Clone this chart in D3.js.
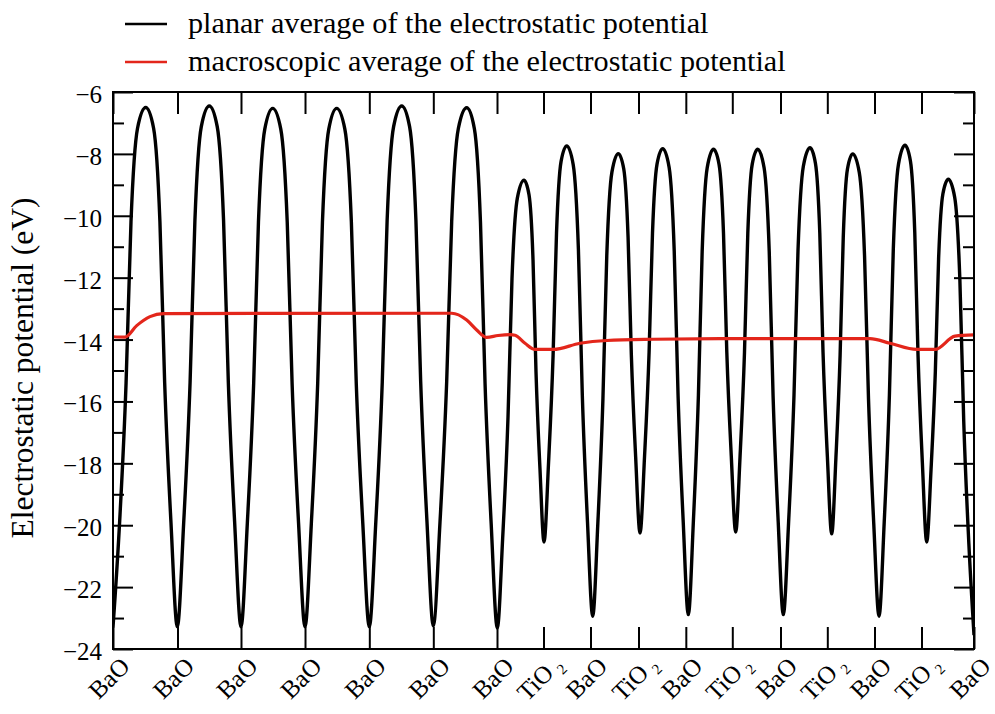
<!DOCTYPE html>
<html>
<head>
<meta charset="utf-8">
<script src="https://cdn.jsdelivr.net/npm/d3@7"></script>
<style>
  html, body { margin: 0; padding: 0; background: #fff; }
  svg { display: block; }
</style>
</head>
<body>
<svg id="chart" width="995" height="714" font-family="Liberation Serif"></svg>
<script>
// ---------------- data ----------------
// atomic layers along the stacking direction (position in Å)
const layerLabels = ["BaO","BaO","BaO","BaO","BaO","BaO","BaO","TiO2","BaO","TiO2","BaO","TiO2","BaO","TiO2","BaO","TiO2","BaO"];
const layerPositions = [0, 2.787, 5.530, 8.296, 11.074, 13.839, 16.591, 18.600, 20.631, 22.704, 24.749, 26.757, 28.840, 30.862, 32.901, 34.932, 37.2];

// y axis ticks (eV)
const yMajorTicks = [-24, -22, -20, -18, -16, -14, -12, -10, -8, -6];
const yMinorTicks = [-23, -21, -19, -17, -15, -13, -11, -9, -7];

// planar average of the electrostatic potential: [position (Å), potential (eV)]
const planarPoints = [
  [0.000,-23.30],[0.283,-19.94],[0.565,-15.40],[0.777,-10.20],[1.060,-7.17],
  [1.413,-6.50],[1.754,-7.17],[2.027,-10.19],[2.232,-15.39],[2.505,-19.92],
  [2.778,-23.28],[3.055,-19.91],[3.331,-15.37],[3.539,-10.15],[3.815,-7.12],
  [4.161,-6.45],[4.503,-7.12],[4.777,-10.15],[4.982,-15.37],[5.256,-19.91],
  [5.530,-23.28],[5.804,-19.93],[6.078,-15.41],[6.284,-10.21],[6.558,-7.20],
  [6.900,-6.53],[7.249,-7.20],[7.528,-10.21],[7.738,-15.41],[8.017,-19.93],
  [8.296,-23.28],[8.570,-19.93],[8.844,-15.41],[9.049,-10.21],[9.323,-7.20],
  [9.665,-6.53],[10.017,-7.20],[10.299,-10.21],[10.510,-15.41],[10.792,-19.93],
  [11.074,-23.28],[11.354,-19.91],[11.634,-15.37],[11.844,-10.15],[12.124,-7.12],
  [12.474,-6.45],[12.815,-7.12],[13.088,-10.15],[13.293,-15.35],[13.566,-19.89],
  [13.839,-23.25],[14.128,-19.90],[14.416,-15.38],[14.633,-10.19],[14.921,-7.18],
  [15.282,-6.51],[15.612,-7.18],[15.877,-10.21],[16.075,-15.42],[16.340,-19.96],
  [16.604,-23.32],[16.835,-20.43],[17.066,-16.52],[17.239,-12.03],[17.470,-9.43],
  [17.758,-8.85],[17.974,-9.32],[18.147,-11.42],[18.276,-15.05],[18.449,-18.20],
  [18.622,-20.54],[18.818,-17.98],[19.014,-14.52],[19.162,-10.56],[19.358,-8.25],
  [19.603,-7.74],[19.884,-8.35],[20.108,-11.08],[20.277,-15.80],[20.501,-19.90],
  [20.726,-22.94],[20.947,-19.95],[21.168,-15.91],[21.334,-11.28],[21.556,-8.59],
  [21.832,-7.99],[22.066,-8.48],[22.254,-10.69],[22.395,-14.49],[22.582,-17.80],
  [22.770,-20.25],[22.966,-17.77],[23.162,-14.41],[23.309,-10.56],[23.505,-8.33],
  [23.750,-7.83],[24.027,-8.43],[24.248,-11.14],[24.414,-15.81],[24.636,-19.88],
  [24.857,-22.89],[25.075,-19.88],[25.292,-15.82],[25.455,-11.16],[25.673,-8.45],
  [25.945,-7.85],[26.185,-8.34],[26.377,-10.57],[26.520,-14.41],[26.712,-17.75],
  [26.904,-20.22],[27.094,-17.75],[27.284,-14.41],[27.427,-10.57],[27.617,-8.34],
  [27.855,-7.85],[28.131,-8.45],[28.353,-11.16],[28.519,-15.82],[28.740,-19.88],
  [28.961,-22.89],[29.192,-19.87],[29.423,-15.80],[29.596,-11.12],[29.827,-8.40],
  [30.115,-7.80],[30.349,-8.30],[30.537,-10.55],[30.677,-14.41],[30.865,-17.78],
  [31.052,-20.28],[31.234,-17.82],[31.415,-14.51],[31.551,-10.70],[31.733,-8.49],
  [31.960,-8.00],[32.244,-8.60],[32.471,-11.29],[32.642,-15.92],[32.869,-19.95],
  [33.096,-22.94],[33.321,-19.90],[33.545,-15.79],[33.714,-11.07],[33.938,-8.33],
  [34.219,-7.72],[34.453,-8.23],[34.641,-10.54],[34.782,-14.51],[34.969,-17.98],
  [35.157,-20.54],[35.344,-18.20],[35.530,-15.03],[35.670,-11.40],[35.857,-9.29],
  [36.090,-8.82],[36.367,-9.41],[36.589,-12.06],[36.756,-16.63],[36.978,-20.60],
  [37.200,-23.55]
];

// macroscopic average of the electrostatic potential: [position (Å), potential (eV)]
const macroPoints = [
  [0.000,-13.91],[0.518,-13.92],[1.024,-13.55],[1.599,-13.26],[2.173,-13.16],
  [14.634,-13.15],[15.282,-13.37],[15.714,-13.69],[16.146,-13.93],[16.634,-13.87],
  [17.153,-13.84],[17.369,-13.86],[17.801,-14.12],[18.233,-14.32],[19.024,-14.32],
  [20.177,-14.12],[21.331,-14.03],[23.344,-13.99],[26.226,-13.97],[32.707,-13.97],
  [33.571,-14.12],[34.725,-14.32],[35.515,-14.32],[36.380,-13.89],[37.200,-13.85]
];

const seriesNames = ["planar average of the electrostatic potential",
                     "macroscopic average of the electrostatic potential"];
const seriesColors = ["#000000", "#e3261b"];
const yTitle = "Electrostatic potential (eV)";

// ---------------- drawing ----------------
const FONT = "Liberation Serif";
const svg = d3.select("#chart");
const plot = { left: 113, right: 974, top: 92, bottom: 649 };

const x = d3.scaleLinear().domain([0, 37.2]).range([plot.left, plot.right]);
const y = d3.scaleLinear().domain([-24, -6]).range([plot.bottom, plot.top]);

svg.append("rect").attr("width", 995).attr("height", 714).attr("fill", "#fff");

svg.append("defs").append("clipPath").attr("id", "clip")
  .append("rect").attr("x", plot.left).attr("y", plot.top)
  .attr("width", plot.right - plot.left).attr("height", plot.bottom - plot.top);

function styleAxis(g) {
  g.attr("font-family", FONT);
  g.select(".domain").remove();
  g.selectAll(".tick line").attr("stroke", "#000").attr("stroke-width", 2);
}

// bottom / top x axes (ticks inward, labels drawn separately)
svg.append("g").attr("transform", `translate(0,${plot.bottom})`)
  .call(d3.axisBottom(x).tickValues(layerPositions).tickSize(-22).tickFormat(""))
  .call(styleAxis);
svg.append("g").attr("transform", `translate(0,${plot.top})`)
  .call(d3.axisTop(x).tickValues(layerPositions).tickSize(-22).tickFormat(""))
  .call(styleAxis);

// left y axis
svg.append("g").attr("transform", `translate(${plot.left},0)`)
  .call(d3.axisLeft(y).tickValues(yMajorTicks).tickSize(-20).tickPadding(11).tickFormat(d3.format("d")))
  .call(styleAxis)
  .call(g => g.selectAll(".tick text")
    .attr("font-size", 25).attr("font-family", FONT).attr("fill", "#000")
    .attr("dy", "0.36em").attr("y", 1.5));
svg.append("g").attr("transform", `translate(${plot.left},0)`)
  .call(d3.axisLeft(y).tickValues(yMinorTicks).tickSize(-11).tickFormat(""))
  .call(styleAxis);
// right y axis
svg.append("g").attr("transform", `translate(${plot.right},0)`)
  .call(d3.axisRight(y).tickValues(yMajorTicks).tickSize(-20).tickFormat(""))
  .call(styleAxis);
svg.append("g").attr("transform", `translate(${plot.right},0)`)
  .call(d3.axisRight(y).tickValues(yMinorTicks).tickSize(-11).tickFormat(""))
  .call(styleAxis);

// x tick labels, rotated by 45 degrees
const lblG = svg.append("g").selectAll("g")
  .data(layerLabels.map((l, i) => ({ l, p: layerPositions[i] })))
  .join("g")
  .attr("transform", d => "translate(" + (x(d.p) + 2) + "," + (plot.bottom + 35) + ")");
const lbl = lblG.append("text")
  .attr("transform", "rotate(-45)")
  .attr("text-anchor", "middle")
  .attr("font-family", FONT)
  .attr("font-size", 25)
  .attr("fill", "#000");
lbl.each(function (d) {
  const t = d3.select(this);
  if (d.l === "TiO2") {
    t.append("tspan").text("TiO");
    t.append("tspan").attr("font-size", 15).attr("dx", 5).attr("dy", 6).text("2");
  } else {
    t.text(d.l);
  }
});

// y axis title
svg.append("text")
  .attr("transform", "translate(33,368) rotate(-90)")
  .attr("text-anchor", "middle")
  .attr("font-family", FONT)
  .attr("font-size", 31.5)
  .attr("fill", "#000")
  .text(yTitle);

// curves
const line = d3.line().x(d => x(d[0])).y(d => y(d[1])).curve(d3.curveMonotoneX);
const curves = svg.append("g").attr("clip-path", "url(#clip)");
curves.append("path").datum(planarPoints)
  .attr("d", line).attr("fill", "none")
  .attr("stroke", seriesColors[0]).attr("stroke-width", 3.4).attr("stroke-linejoin", "round");
curves.append("path").datum(macroPoints)
  .attr("d", line).attr("fill", "none")
  .attr("stroke", seriesColors[1]).attr("stroke-width", 3.2).attr("stroke-linejoin", "round");

// frame
svg.append("rect")
  .attr("x", plot.left).attr("y", plot.top)
  .attr("width", plot.right - plot.left).attr("height", plot.bottom - plot.top)
  .attr("fill", "none").attr("stroke", "#000").attr("stroke-width", 2);

// legend
const leg = svg.append("g").selectAll("g")
  .data(seriesNames.map((n, i) => ({ n, c: seriesColors[i], i })))
  .join("g")
  .attr("transform", d => "translate(125," + (24 + d.i * 38) + ")");
leg.append("line").attr("x1", 0).attr("x2", 42).attr("y1", 0).attr("y2", 0)
  .attr("stroke", d => d.c).attr("stroke-width", 2.4);
leg.append("text").attr("x", 63).attr("y", 9)
  .attr("font-family", FONT).attr("font-size", 30.2).attr("fill", "#000")
  .text(d => d.n);
</script>
</body>
</html>
